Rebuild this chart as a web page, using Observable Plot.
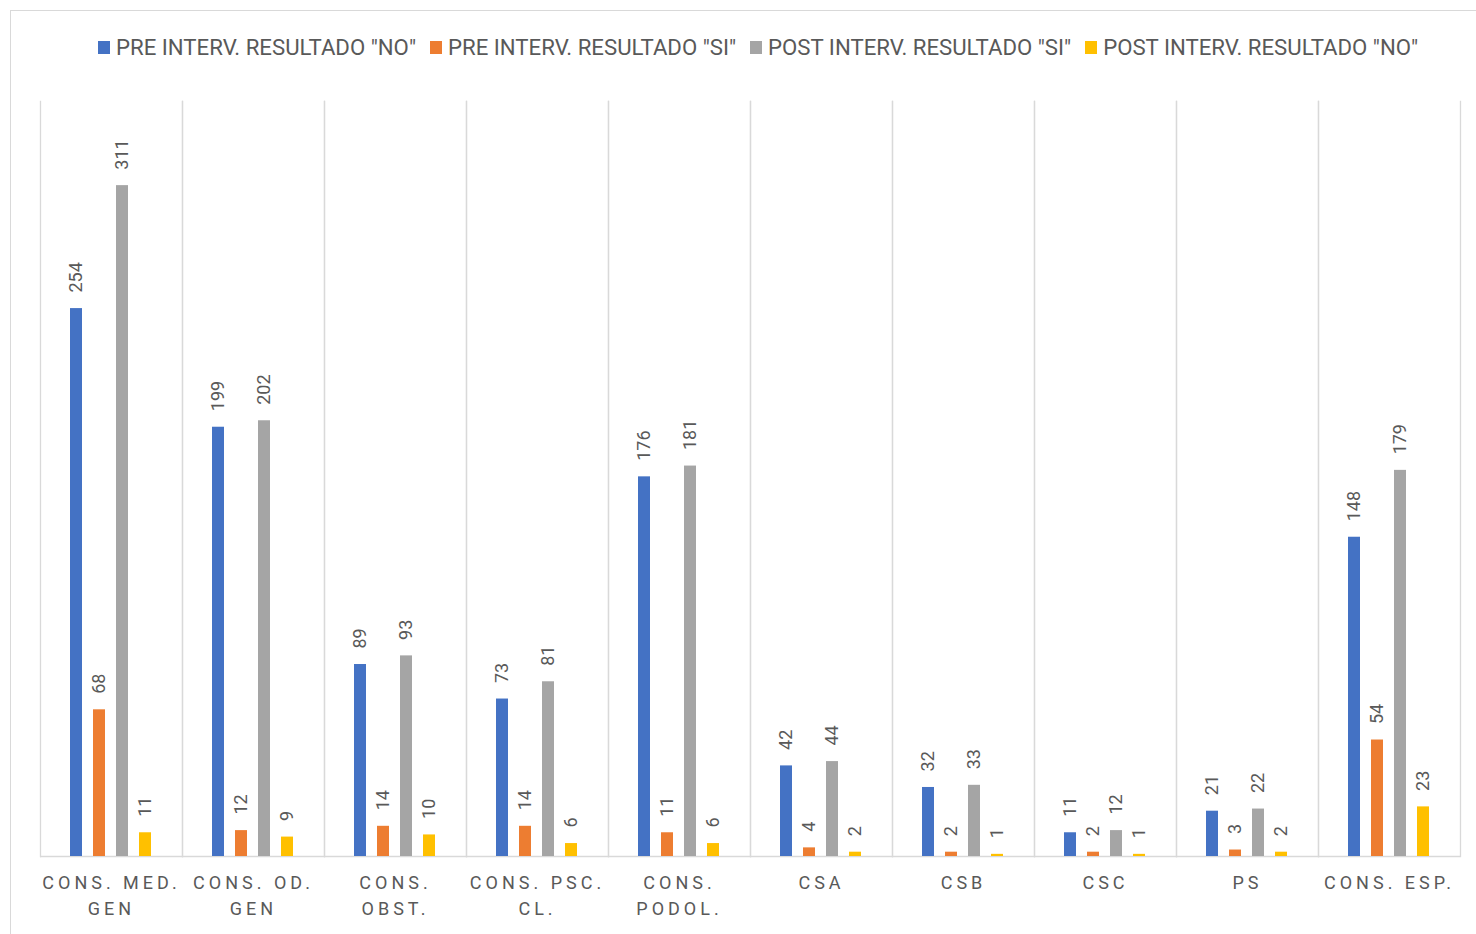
<!DOCTYPE html>
<html>
<head>
<meta charset="utf-8">
<script src="https://cdn.jsdelivr.net/npm/d3@7"></script>
<script src="https://cdn.jsdelivr.net/npm/@observablehq/plot@0.6"></script>
<style>
  html, body { margin: 0; padding: 0; background: #fff; width: 1476px; height: 934px; overflow: hidden; }
  #frame { position: absolute; left: 10px; top: 10px; width: 1500px; height: 960px; border: 1px solid #d9d9d9; box-sizing: border-box; }
  #legend { position: absolute; top: 34px; left: 98px; display: flex; gap: 14px; font-family: Roboto, "Liberation Sans", sans-serif; font-size: 22.2px; color: #595959; white-space: nowrap; }
  .item { display: flex; align-items: center; gap: 6px; }
  .sw { width: 12px; height: 13px; display: inline-block; }
  #chart { position: absolute; left: 0; top: 60px; }
  #chart svg [aria-label="fx-axis tick label"] text { letter-spacing: 4px; }
</style>
</head>
<body>
<div id="frame"></div>
<div id="legend"></div>
<div id="chart"></div>
<script>
const categories = ["CONS. MED. GEN", "CONS. OD. GEN", "CONS. OBST.", "CONS. PSC. CL.", "CONS. PODOL.", "CSA", "CSB", "CSC", "PS", "CONS. ESP."];
const categoryLabels = ["CONS. MED.\nGEN", "CONS. OD.\nGEN", "CONS.\nOBST.", "CONS. PSC.\nCL.", "CONS.\nPODOL.", "CSA", "CSB", "CSC", "PS", "CONS. ESP."];
const seriesNames = ["PRE INTERV. RESULTADO \"NO\"", "PRE INTERV. RESULTADO \"SI\"", "POST INTERV. RESULTADO \"SI\"", "POST INTERV. RESULTADO \"NO\""];
const seriesColors = ["#4472C4", "#ED7D31", "#A5A5A5", "#FFC000"];
const preNo   = [254, 199, 89, 73, 176, 42, 32, 11, 21, 148];
const preSi   = [68, 12, 14, 14, 11, 4, 2, 2, 3, 54];
const postSi  = [311, 202, 93, 81, 181, 44, 33, 12, 22, 179];
const postNo  = [11, 9, 10, 6, 6, 2, 1, 1, 2, 23];

const seriesValues = [preNo, preSi, postSi, postNo];
const data = [];
categories.forEach((c, i) => {
  seriesNames.forEach((s, j) => data.push({category: c, series: s, value: seriesValues[j][i]}));
});

// legend
const legend = document.getElementById("legend");
seriesNames.forEach((s, j) => {
  const it = document.createElement("div");
  it.className = "item";
  it.innerHTML = `<span class="sw" style="background:${seriesColors[j]}"></span><span></span>`;
  it.lastChild.textContent = s;
  legend.appendChild(it);
});

const labelMap = new Map(categories.map((c, i) => [c, categoryLabels[i]]));

const chart = Plot.plot({
  width: 1476,
  height: 874,
  marginLeft: 38,
  marginRight: 15,
  marginTop: 41,
  marginBottom: 78,
  style: {fontFamily: "Roboto, 'Liberation Sans', sans-serif", color: "#595959", background: "transparent"},
  fx: {domain: categories, padding: 0},
  x: {domain: seriesNames, paddingInner: 0.46, paddingOuter: 1.2, axis: null},
  y: {domain: [0, 350], axis: null},
  color: {domain: seriesNames, range: seriesColors},
  marks: [
    Plot.frame({anchor: "left", stroke: "#d9d9d9", strokeWidth: 1.3}),
    Plot.frame({anchor: "right", stroke: "#d9d9d9", strokeWidth: 1.3}),
    Plot.ruleY([0], {stroke: "#d9d9d9", strokeWidth: 1.5}),
    Plot.barY(data, {fx: "category", x: "series", y: "value", fill: "series"}),
    Plot.text(data, {fx: "category", x: "series", y: "value", text: d => String(d.value), rotate: -90, textAnchor: "start", lineAnchor: "middle", dy: -16, fontSize: 18, fill: "#595959"}),
    Plot.axisFx({anchor: "bottom", tickSize: 0, tickPadding: 14, fontSize: 18, lineHeight: 1.45, label: null, tickFormat: d => labelMap.get(d), fill: "#595959"})
  ]
});
document.getElementById("chart").appendChild(chart);
</script>
</body>
</html>
